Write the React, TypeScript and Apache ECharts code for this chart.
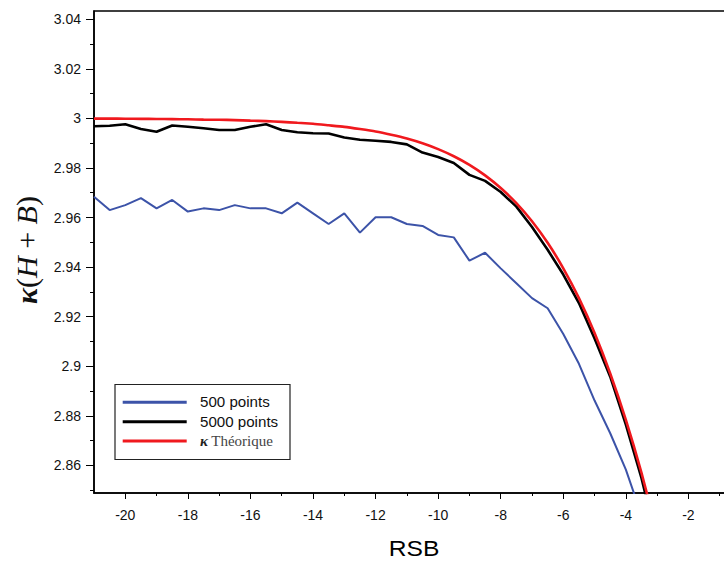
import React, { useEffect, useRef } from "react";
import * as echarts from "echarts";

const xValues = [
  -21, -20.5, -20, -19.5, -19, -18.5, -18, -17.5, -17, -16.5, -16, -15.5, -15, -14.5, -14, -13.5, -13, -12.5,
  -12, -11.5, -11, -10.5, -10, -9.5, -9, -8.5, -8, -7.5, -7, -6.5, -6, -5.5, -5, -4.5, -4, -3.5, -3,
];

const blue500 = [
  2.9684, 2.963, 2.965, 2.9678, 2.9637, 2.9671, 2.9624, 2.9637, 2.963, 2.965, 2.9637, 2.9637, 2.9617, 2.966,
  2.9617, 2.9574, 2.9617, 2.9539, 2.9601, 2.9601, 2.9574, 2.9566, 2.953, 2.952, 2.9426, 2.9458, 2.9395, 2.9335,
  2.9275, 2.9234, 2.913, 2.901, 2.8862, 2.873, 2.8583, 2.84, 2.82,
];

const black5000 = [
  2.9968, 2.997, 2.9976, 2.9957, 2.9946, 2.9971, 2.9966, 2.996, 2.9953, 2.9953, 2.9966, 2.9976, 2.9953, 2.9944,
  2.994, 2.9939, 2.9923, 2.9914, 2.991, 2.9905, 2.9895, 2.9862, 2.9844, 2.982, 2.9772, 2.9748, 2.9703, 2.9644,
  2.9562, 2.947, 2.937, 2.9255, 2.9112, 2.8958, 2.8765, 2.8549, 2.829,
];

const redTheory = [
  2.9999, 2.9999, 2.99985, 2.9998, 2.99977, 2.9997, 2.99963, 2.9995, 2.99943, 2.9993, 2.9991, 2.9989, 2.99859,
  2.9982, 2.9978, 2.9972, 2.99658, 2.9957, 2.99472, 2.9934, 2.99188, 2.98996, 2.9876, 2.98473, 2.98125, 2.97702,
  2.97192, 2.96582, 2.9585, 2.94981, 2.93954, 2.92749, 2.91342, 2.89712, 2.87837, 2.85702, 2.8328,
];

const seriesNames = ["500 points", "5000 points", "Théorique"];
const seriesColors = ["#3c53a8", "#000000", "#f0191e"];

const xMajorTicks = [-20, -18, -16, -14, -12, -10, -8, -6, -4, -2];
const xMinorTicks = [-19, -17, -15, -13, -11, -9, -7, -5, -3, -1];
const yMajorTicks = [2.86, 2.88, 2.9, 2.92, 2.94, 2.96, 2.98, 3.0, 3.02, 3.04];
const yMinorTicks = [2.85, 2.87, 2.89, 2.91, 2.93, 2.95, 2.97, 2.99, 3.01, 3.03];

const xLabelName = "RSB";

const X_MIN = -21;
const X_MAX = 0;
const Y_MIN = 2.8489;
const Y_MAX = 3.0433;

function pairs(ys: number[]) {
  return xValues.map((x, i) => [x, ys[i]]);
}

export default function App() {
  const ref = useRef<HTMLDivElement>(null);

  useEffect(() => {
    if (!ref.current) return;
    const chart = echarts.init(ref.current, undefined, { renderer: "svg" });
    const sansFont = "'Liberation Sans', Arial, sans-serif";
    const serifFont = "'Liberation Serif', 'DejaVu Serif', serif";

    const fmtY = (v: number) => String(Number(v.toFixed(2)));

    const legendTop = 384.5;
    const legendLeft = 115;
    const rowY = [402.3, 421.7, 441];

    const legendChildren: any[] = [
      {
        type: "rect",
        shape: { x: legendLeft, y: legendTop, width: 175, height: 75 },
        style: { fill: "#fff", stroke: "#222", lineWidth: 1.2 },
      },
    ];
    seriesNames.forEach((name, i) => {
      legendChildren.push({
        type: "line",
        shape: { x1: 122.7, y1: rowY[i], x2: 186.7, y2: rowY[i] },
        style: { stroke: seriesColors[i], lineWidth: 3 },
      });
      if (i < 2) {
        legendChildren.push({
          type: "text",
          x: 200,
          y: rowY[i],
          scaleX: 1.08,
          style: {
            text: name,
            fill: "#111",
            font: `14px ${sansFont}`,
            verticalAlign: "middle",
          },
        });
      } else {
        legendChildren.push({
          type: "text",
          x: 200,
          y: rowY[i],
          style: {
            text: "{k|κ} {t|" + name + "}",
            verticalAlign: "middle",
            rich: {
              k: { fontFamily: serifFont, fontSize: 15, fontWeight: "bold", fontStyle: "italic", fill: "#222" },
              t: { fontFamily: serifFont, fontSize: 15, fill: "#444" },
            },
          },
        });
      }
    });

    const option: any = {
      animation: false,
      backgroundColor: "#ffffff",
      grid: {
        left: 94,
        top: 11,
        width: 657,
        height: 482,
        show: true,
        borderColor: "#000",
        borderWidth: 1.5,
        backgroundColor: "transparent",
      },
      xAxis: [
        {
          type: "value",
          min: X_MIN,
          max: X_MAX,
          position: "bottom",
          axisLine: { show: true, onZero: false, lineStyle: { color: "#000", width: 1.5 } },
          axisTick: { show: true, inside: false, length: 6, customValues: xMajorTicks, lineStyle: { color: "#000", width: 1 } },
          axisLabel: {
            show: true,
            customValues: xMajorTicks,
            margin: 15,
            color: "#111",
            fontSize: 14,
            fontFamily: sansFont,
            formatter: (v: number) => String(v),
          },
          splitLine: { show: false },
        },
        {
          type: "value",
          min: X_MIN,
          max: X_MAX,
          position: "bottom",
          offset: 0,
          axisLine: { show: false, onZero: false },
          axisTick: { show: true, inside: false, length: 3, customValues: xMinorTicks, lineStyle: { color: "#000", width: 1 } },
          axisLabel: { show: false },
          splitLine: { show: false },
        },
      ],
      yAxis: [
        {
          type: "value",
          min: Y_MIN,
          max: Y_MAX,
          position: "left",
          axisLine: { show: true, onZero: false, lineStyle: { color: "#000", width: 1.5 } },
          axisTick: { show: true, inside: false, length: 8, customValues: yMajorTicks, lineStyle: { color: "#000", width: 1 } },
          axisLabel: {
            show: true,
            customValues: yMajorTicks,
            margin: 13,
            color: "#111",
            fontSize: 14,
            fontFamily: sansFont,
            formatter: fmtY,
          },
          splitLine: { show: false },
        },
        {
          type: "value",
          min: Y_MIN,
          max: Y_MAX,
          position: "left",
          offset: 0,
          axisLine: { show: false, onZero: false },
          axisTick: { show: true, inside: false, length: 4, customValues: yMinorTicks, lineStyle: { color: "#000", width: 1 } },
          axisLabel: { show: false },
          splitLine: { show: false },
        },
      ],
      series: [
        {
          name: seriesNames[0],
          type: "line",
          data: pairs(blue500),
          showSymbol: false,
          symbol: "none",
          clip: true,
          lineStyle: { color: seriesColors[0], width: 2 },
          z: 2,
        },
        {
          name: seriesNames[1],
          type: "line",
          data: pairs(black5000),
          showSymbol: false,
          symbol: "none",
          clip: true,
          lineStyle: { color: seriesColors[1], width: 2.6 },
          z: 3,
        },
        {
          name: seriesNames[2],
          type: "line",
          data: pairs(redTheory),
          showSymbol: false,
          symbol: "none",
          smooth: 0.2,
          clip: true,
          lineStyle: { color: seriesColors[2], width: 2.6 },
          z: 4,
        },
      ],
      graphic: [
        {
          type: "text",
          x: 414,
          y: 548,
          scaleX: 1.12,
          style: {
            text: xLabelName,
            font: `22px ${sansFont}`,
            fill: "#000",
            align: "center",
            verticalAlign: "middle",
          },
        },
        {
          type: "text",
          x: 26,
          y: 250,
          rotation: Math.PI / 2,
          style: {
            text: "{k|κ}{p|(}{i|H}{p| + }{i|B}{p|)}",
            align: "center",
            verticalAlign: "middle",
            rich: {
              k: { fontFamily: serifFont, fontSize: 30, fontWeight: "bold", fontStyle: "italic", fill: "#111" },
              p: { fontFamily: serifFont, fontSize: 30, fill: "#111" },
              i: { fontFamily: serifFont, fontSize: 30, fontStyle: "italic", fill: "#111" },
            },
          },
        },
        {
          type: "group",
          z: 100,
          children: legendChildren,
        },
      ],
    };

    chart.setOption(option);
    return () => {
      chart.dispose();
    };
  }, []);

  return (
    <div
      style={{
        position: "fixed",
        left: 0,
        top: 0,
        width: 724,
        height: 562,
        overflow: "hidden",
        background: "#fff",
      }}
    >
      <div ref={ref} style={{ width: 800, height: 562 }} />
    </div>
  );
}
